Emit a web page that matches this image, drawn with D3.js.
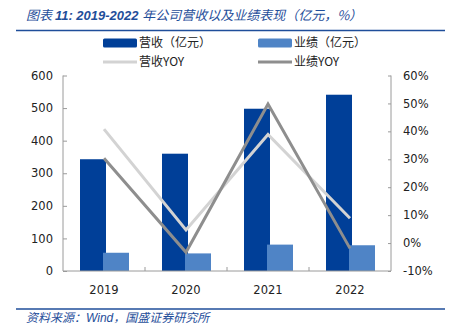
<!DOCTYPE html>
<html><head><meta charset="utf-8">
<script src="https://cdn.jsdelivr.net/npm/d3@7"></script>
<style>body{margin:0;background:#fff}svg{display:block}</style>
</head><body><svg id="c" width="451" height="335"></svg>
<script>
const categories = ["2019","2020","2021","2022"];
const revenue = [343, 360, 498, 541];
const profit = [56, 54, 81, 79];
const revenueYoy = [40.8, 4.7, 38.9, 8.9];
const profitYoy = [30.4, -3.3, 49.8, -1.9];
const leftTicks = [0,100,200,300,400,500,600];
const rightTicks = [-10,0,10,20,30,40,50,60];
const seriesNames = ["营收（亿元）","业绩（亿元）","营收YOY","业绩YOY"];

const C_REV="#003f98", C_PRO="#4f84c6", C_RY="#d3d3d3", C_PY="#8e8e8e", BLUE="#1f4e9a";
const svg=d3.select("#c");
const L=63,R=391,T=75.5,B=271;
const x=d3.scaleBand().domain(categories).range([L,R]);
const y=d3.scaleLinear().domain([0,600]).range([B,T]);
const y2=d3.scaleLinear().domain([-10,60]).range([B,T]);
const fnt="'DejaVu Sans', sans-serif";
const cjk="'Noto Sans CJK SC', sans-serif";

// title
const t=svg.append("text").attr("x",26).attr("y",20).attr("fill",BLUE).attr("font-size",13).attr("font-style","italic").attr("font-family",cjk);
t.append("tspan").text("图表 ");
t.append("tspan").attr("font-weight","bold").attr("font-family","'Liberation Sans', sans-serif").text("11:  2019-2022 ");
t.append("tspan").text("年公司营收以及业绩表现（亿元，%）");
svg.append("line").attr("x1",16).attr("x2",445).attr("y1",30.5).attr("y2",30.5).attr("stroke",BLUE).attr("stroke-width",1.5);

// legend
const lg=[{x:103,y:43,t:"rect",c:C_REV,n:seriesNames[0]},{x:258,y:43,t:"rect",c:C_PRO,n:seriesNames[1]},
          {x:103,y:62,t:"line",c:C_RY,n:seriesNames[2]},{x:258,y:62,t:"line",c:C_PY,n:seriesNames[3]}];
lg.forEach(d=>{
  if(d.t==="rect") svg.append("rect").attr("x",d.x).attr("y",d.y-4.5).attr("width",34).attr("height",9).attr("rx",1.5).attr("fill",d.c);
  else svg.append("line").attr("x1",d.x).attr("x2",d.x+34).attr("y1",d.y).attr("y2",d.y).attr("stroke",d.c).attr("stroke-width",3);
  svg.append("text").attr("x",d.x+36).attr("y",d.y).attr("dy","0.36em").attr("font-size",12).attr("font-family",cjk).attr("fill","#222").text(d.n);
});

// bars
const bw=26;
svg.selectAll(".rev").data(revenue).enter().append("rect")
  .attr("x",(d,i)=>x(categories[i])+x.bandwidth()/2-24).attr("width",bw)
  .attr("y",d=>y(d)).attr("height",d=>B-y(d)).attr("fill",C_REV);
svg.selectAll(".pro").data(profit).enter().append("rect")
  .attr("x",(d,i)=>x(categories[i])+x.bandwidth()/2-1).attr("width",bw)
  .attr("y",d=>y(d)).attr("height",d=>B-y(d)).attr("fill",C_PRO);

// axes
const ac="#9a9a9a";
const ax=svg.append("g").attr("transform",`translate(${L},0)`).call(d3.axisRight(y).tickValues(leftTicks).tickSize(4).tickFormat(""));
const ax2=svg.append("g").attr("transform",`translate(${R},0)`).call(d3.axisLeft(y2).tickValues(rightTicks).tickSize(3).tickFormat(""));
const axb=svg.append("g").attr("transform",`translate(0,${B})`).call(d3.axisTop(x).tickSize(0).tickFormat(""));
[ax,ax2,axb].forEach(g=>{g.selectAll("path,line").attr("stroke",ac);});
ax.select(".domain").attr("d",`M0,${T}V${B}`);
ax2.select(".domain").attr("d",`M0,${T}V${B}`);
axb.select(".domain").attr("d",`M${L},0H${R}`);
svg.selectAll(".bt").data(categories.slice(1)).enter().append("line")
  .attr("x1",d=>x(d)).attr("x2",d=>x(d)).attr("y1",B).attr("y2",B-4).attr("stroke",ac);

svg.selectAll(".lt").data(leftTicks).enter().append("text")
  .attr("x",53).attr("y",d=>y(d)).attr("dy","0.36em").attr("text-anchor","end")
  .attr("font-size",11.5).attr("font-family",fnt).attr("fill","#222").text(d=>d);
svg.selectAll(".rt").data(rightTicks).enter().append("text")
  .attr("x",403).attr("y",d=>y2(d)).attr("dy","0.36em")
  .attr("font-size",11.5).attr("font-family",fnt).attr("fill","#222").text(d=>d+"%");
svg.selectAll(".ct").data(categories).enter().append("text")
  .attr("x",d=>x(d)+x.bandwidth()/2).attr("y",290).attr("dy","0.36em").attr("text-anchor","middle")
  .attr("font-size",11.5).attr("font-family",fnt).attr("fill","#222").text(d=>d);

// lines
const line=d3.line().x((d,i)=>x(categories[i])+x.bandwidth()/2).y(d=>y2(d));
svg.append("path").datum(revenueYoy).attr("d",line).attr("fill","none").attr("stroke",C_RY).attr("stroke-width",3);
svg.append("path").datum(profitYoy).attr("d",line).attr("fill","none").attr("stroke",C_PY).attr("stroke-width",3);

// footer
svg.append("line").attr("x1",16).attr("x2",445).attr("y1",309).attr("y2",309).attr("stroke",BLUE).attr("stroke-width",1.5);
const f=svg.append("text").attr("x",26).attr("y",322).attr("fill",BLUE).attr("font-size",12).attr("font-style","italic").attr("font-family",cjk);
f.append("tspan").text("资料来源：");
f.append("tspan").attr("font-family","'Liberation Sans', sans-serif").text("Wind");
f.append("tspan").text("，国盛证券研究所");
</script></body></html>
